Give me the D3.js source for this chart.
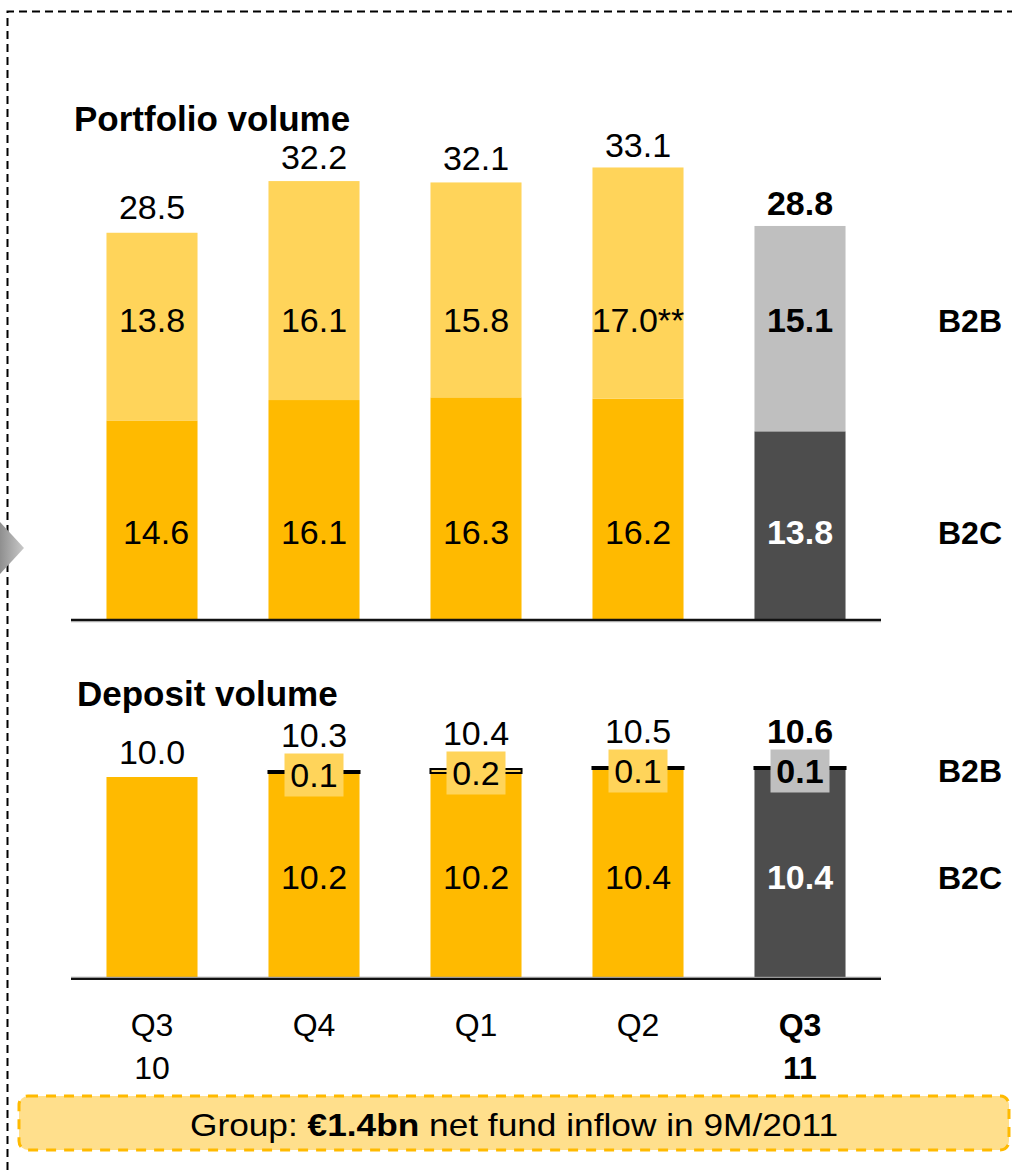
<!DOCTYPE html>
<html><head><meta charset="utf-8">
<script src="https://cdn.jsdelivr.net/npm/d3@7"></script>
<style>html,body{margin:0;padding:0;background:#fff;}svg{display:block;}</style>
</head><body>
<script>
// ---- data ----
const categories = ["Q3 10", "Q4", "Q1", "Q2", "Q3 11"];
const catLine1 = ["Q3", "Q4", "Q1", "Q2", "Q3"];
const catLine2 = ["10", "", "", "", "11"];
const portfolioB2C = [14.6, 16.1, 16.3, 16.2, 13.8];
const portfolioB2B = [13.8, 16.1, 15.8, 17.0, 15.1];
const portfolioTotal = ["28.5", "32.2", "32.1", "33.1", "28.8"];
const portfolioB2BLabels = ["13.8", "16.1", "15.8", "17.0**", "15.1"];
const portfolioB2CLabels = ["14.6", "16.1", "16.3", "16.2", "13.8"];
const depositB2C = [10.0, 10.2, 10.2, 10.4, 10.4];
const depositB2B = [0, 0.1, 0.2, 0.1, 0.1];
const depositTotal = ["10.0", "10.3", "10.4", "10.5", "10.6"];
const depositB2BLabels = [null, "0.1", "0.2", "0.1", "0.1"];
const depositB2CLabels = [null, "10.2", "10.2", "10.4", "10.4"];
const highlight = [false, false, false, false, true];

const W = 1012, H = 1170;
const FONT = "'Liberation Sans', Arial, Helvetica, sans-serif";
const C = {b2c: "#FFBA00", b2b: "#FFD45A", dark: "#4D4D4D", grey: "#BFBFBF", boxFill: "#FFDF8C"};

const svg = d3.select("body").append("svg").attr("width", W).attr("height", H)
  .style("font-family", FONT);

const defs = svg.append("defs");
const grad = defs.append("linearGradient").attr("id", "arrowGrad").attr("x1", "0").attr("x2", "1").attr("y1", "0").attr("y2", "0");
grad.append("stop").attr("offset", "0").attr("stop-color", "#8f8f8f");
grad.append("stop").attr("offset", "1").attr("stop-color", "#c9c9c9");

// dashed frame
svg.append("path").attr("d", "M7.5," + H + " V11.5 H" + W)
  .attr("fill", "none").attr("stroke", "#000").attr("stroke-width", 2)
  .attr("stroke-dasharray", "8,5");

// arrow
svg.append("path").attr("d", "M0,522 L24,548 L0,574 Z").attr("fill", "url(#arrowGrad)");

const x = d3.scaleBand().domain(categories).range([71, 881]).paddingInner(0.438).paddingOuter(0.219);
const bw = x.bandwidth();
const cx = i => x(categories[i]) + bw / 2;

// ---- Portfolio chart ----
const yP = d3.scaleLinear().domain([0, 10]).range([619, 619 - 136]);

svg.append("text").attr("x", 74).attr("y", 131).attr("font-size", 35).attr("font-weight", "bold")
  .text("Portfolio volume");

const gP = svg.append("g");
categories.forEach((c, i) => {
  const hl = highlight[i];
  gP.append("rect").attr("x", x(c)).attr("width", bw)
    .attr("y", yP(portfolioB2C[i])).attr("height", yP(0) - yP(portfolioB2C[i]))
    .attr("fill", hl ? C.dark : C.b2c);
  const top = portfolioB2C[i] + portfolioB2B[i];
  gP.append("rect").attr("x", x(c)).attr("width", bw)
    .attr("y", yP(top)).attr("height", yP(portfolioB2C[i]) - yP(top))
    .attr("fill", hl ? C.grey : C.b2b);
  gP.append("text").attr("x", cx(i)).attr("y", yP(+portfolioTotal[i]) - 12)
    .attr("text-anchor", "middle").attr("font-size", 34).attr("font-weight", hl ? "bold" : "normal")
    .text(portfolioTotal[i]);
  gP.append("text").attr("x", cx(i)).attr("y", 332)
    .attr("text-anchor", "middle").attr("font-size", 34).attr("font-weight", hl ? "bold" : "normal")
    .text(portfolioB2BLabels[i]);
  gP.append("text").attr("x", cx(i) + (i === 0 ? 4 : 0)).attr("y", 544)
    .attr("text-anchor", "middle").attr("font-size", 34).attr("font-weight", hl ? "bold" : "normal")
    .attr("fill", hl ? "#fff" : "#000")
    .text(portfolioB2CLabels[i]);
});
svg.append("line").attr("x1", 71).attr("x2", 881).attr("y1", 621.5).attr("y2", 621.5).attr("stroke", "#aaa").attr("stroke-width", 1.5);
svg.append("line").attr("x1", 71).attr("x2", 881).attr("y1", 619.8).attr("y2", 619.8).attr("stroke", "#111").attr("stroke-width", 2.2);

// ---- Deposit chart ----
const yD = d3.scaleLinear().domain([0, 10]).range([977, 777]);

svg.append("text").attr("x", 77).attr("y", 706).attr("font-size", 35).attr("font-weight", "bold")
  .text("Deposit volume");

const gD = svg.append("g");
categories.forEach((c, i) => {
  const hl = highlight[i];
  gD.append("rect").attr("x", x(c)).attr("width", bw)
    .attr("y", yD(depositB2C[i])).attr("height", yD(0) - yD(depositB2C[i]))
    .attr("fill", hl ? C.dark : C.b2c);
  const top = depositB2C[i] + depositB2B[i];
  if (depositB2B[i] > 0) {
    gD.append("rect").attr("x", x(c)).attr("width", bw)
      .attr("y", yD(top)).attr("height", yD(depositB2C[i]) - yD(top))
      .attr("fill", hl ? C.grey : C.b2b).attr("stroke", "#000").attr("stroke-width", 2);
    const bcy = yD(top) + 4;
    const boxTop = bcy - 21.5;
    gD.append("rect").attr("x", cx(i) - 29.5).attr("y", boxTop).attr("width", 59).attr("height", 43)
      .attr("fill", hl ? C.grey : C.b2b);
    gD.append("text").attr("x", cx(i)).attr("y", bcy + 12)
      .attr("text-anchor", "middle").attr("font-size", 34).attr("font-weight", hl ? "bold" : "normal")
      .text(depositB2BLabels[i]);
    gD.append("text").attr("x", cx(i)).attr("y", boxTop - 7)
      .attr("text-anchor", "middle").attr("font-size", 34).attr("font-weight", hl ? "bold" : "normal")
      .text(depositTotal[i]);
  } else {
    gD.append("text").attr("x", cx(i)).attr("y", yD(top) - 13)
      .attr("text-anchor", "middle").attr("font-size", 34).attr("font-weight", hl ? "bold" : "normal")
      .text(depositTotal[i]);
  }
  if (depositB2CLabels[i]) {
    gD.append("text").attr("x", cx(i)).attr("y", 889)
      .attr("text-anchor", "middle").attr("font-size", 34).attr("font-weight", hl ? "bold" : "normal")
      .attr("fill", hl ? "#fff" : "#000")
      .text(depositB2CLabels[i]);
  }
});
svg.append("line").attr("x1", 71).attr("x2", 881).attr("y1", 977.3).attr("y2", 977.3).attr("stroke", "#999").attr("stroke-width", 1.2);
svg.append("line").attr("x1", 71).attr("x2", 881).attr("y1", 979).attr("y2", 979).attr("stroke", "#111").attr("stroke-width", 2.2);

// series labels on the right
[["B2B", 332], ["B2C", 544], ["B2B", 782], ["B2C", 889]].forEach(([t, yy]) => {
  svg.append("text").attr("x", 970).attr("y", yy).attr("text-anchor", "middle")
    .attr("font-size", 32).attr("font-weight", "bold").text(t);
});

// x labels
categories.forEach((c, i) => {
  const hl = highlight[i];
  svg.append("text").attr("x", cx(i)).attr("y", 1036).attr("text-anchor", "middle")
    .attr("font-size", 32).attr("font-weight", hl ? "bold" : "normal").text(catLine1[i]);
  if (catLine2[i]) svg.append("text").attr("x", cx(i)).attr("y", 1079).attr("text-anchor", "middle")
    .attr("font-size", 32).attr("font-weight", hl ? "bold" : "normal").text(catLine2[i]);
});

// bottom callout
svg.append("rect").attr("x", 19).attr("y", 1096).attr("width", 990).attr("height", 54).attr("rx", 9)
  .attr("fill", C.boxFill).attr("stroke", C.b2c).attr("stroke-width", 3).attr("stroke-dasharray", "10,8");
const bt = svg.append("text").attr("x", 514).attr("y", 1136).attr("text-anchor", "middle").attr("font-size", 32)
  .attr("textLength", 648).attr("lengthAdjust", "spacingAndGlyphs");
bt.append("tspan").text("Group: ");
bt.append("tspan").attr("font-weight", "bold").text("€1.4bn");
bt.append("tspan").text(" net fund inflow in 9M/2011");
</script>
</body></html>
